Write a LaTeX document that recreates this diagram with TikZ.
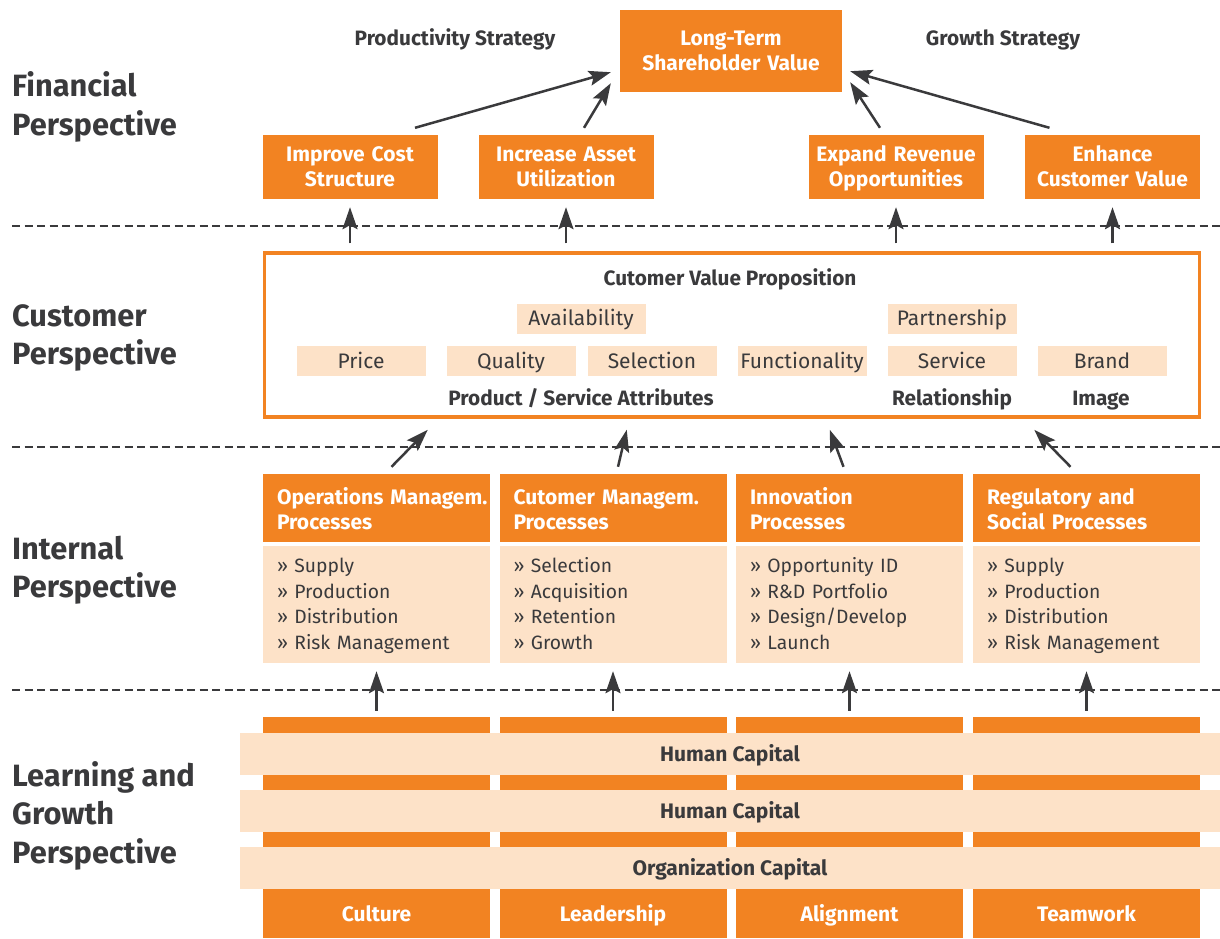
\documentclass[tikz,border=0pt]{standalone}
\usepackage{fontspec}
\setmainfont{Fira Sans}
\usetikzlibrary{arrows.meta}
\definecolor{bscorange}{HTML}{F28322}
\definecolor{bscpeach}{HTML}{FDE2C8}
\definecolor{bscdark}{HTML}{3A3A3C}
\newcommand{\histrut}{\rule[-7.5pt]{0pt}{33pt}}
\newcommand{\lostrut}{\rule[-7.5pt]{0pt}{29pt}}
\newcommand{\deepstrut}{\rule[-7.5pt]{0pt}{7.5pt}}
\tikzset{
	orangebase/.style={fill=bscorange, text=white, inner sep=0pt, align=center, font=\bfseries\fontsize{21}{25}\selectfont},
	peachbase/.style={fill=bscpeach, text=bscdark, inner sep=0pt, align=center, font=\fontsize{21}{25}\selectfont},
	cellbox/.style={orangebase, execute at begin node=\histrut, execute at end node=\histrut},
	finbox/.style={orangebase, text width=175pt, minimum width=175pt, minimum height=64pt, execute at begin node=\rule{0pt}{22pt}, execute at end node=\deepstrut},
	ltbox/.style={orangebase, text width=222pt, minimum width=222pt, minimum height=82pt, execute at begin node=\rule{0pt}{22pt}, execute at end node=\deepstrut},
	headbox/.style={orangebase, align=left, inner xsep=14pt, text width=199pt, minimum width=227pt, minimum height=68pt, execute at begin node=\rule{0pt}{25pt}, execute at end node=\deepstrut},
	listbox/.style={peachbase, align=left, inner xsep=14pt, text width=199pt, minimum width=227pt, minimum height=117pt, font=\fontsize{19.3}{25.5}\selectfont, execute at begin node=\rule{0pt}{20pt}, execute at end node=\deepstrut},
	attrbox/.style={peachbase, minimum width=129pt, minimum height=30pt, execute at begin node=\lostrut, execute at end node=\lostrut},
	capband/.style={peachbase, minimum width=980pt, minimum height=42pt, font=\bfseries\fontsize{21}{25}\selectfont, execute at begin node=\lostrut, execute at end node=\lostrut},
	colstripe/.style={fill=bscorange, minimum width=227pt, minimum height=221pt, inner sep=0pt},
	persp/.style={anchor=west, align=left, inner sep=0pt, text=bscdark, font=\bfseries\fontsize{30.8}{38.5}\selectfont},
	smalltitle/.style={inner sep=0pt, text=bscdark, font=\bfseries\fontsize{20.8}{24}\selectfont, execute at begin node=\strut},
	arr/.style={draw=bscdark, line width=2.5pt, -{Stealth[length=22pt,width=15pt,inset=4pt]}},
	sep/.style={draw=bscdark, line width=2.2pt, dash pattern=on 8pt off 4.5pt}
}

\begin{document}
\begin{tikzpicture}[x=1pt, y=-1pt]
		%%%%% START %%%%%
		\useasboundingbox (0,0) rectangle (1220,938);
		
		% perspectives
		\node[persp] (pfin) at (12,107) {Financial\\Perspective};
		\node[persp] (pcus) at (12,338) {Customer\\Perspective};
		\node[persp] (pint) at (12,570) {Internal\\Perspective};
		\node[persp] (plrn) at (12,815.5) {Learning and\\Growth\\Perspective};
		
		\draw[sep] (12,226) -- (1220,226);
		\draw[sep] (12,447) -- (1220,447);
		\draw[sep] (12,690) -- (1220,690);
		
		% financial
		\node[ltbox] (lt) at (731,51) {Long-Term\\Shareholder Value};
		\node[smalltitle] (prod) at (455,41) {Productivity Strategy};
		\node[smalltitle] (grow) at (1003,41) {Growth Strategy};
		
		\node[finbox] (imp) at (350,167) {Improve Cost\\Structure};
		\node[finbox] (inc) at (566,167) {Increase Asset\\Utilization};
		\node[finbox] (exp) at (896,167) {Expand Revenue\\Opportunities};
		\node[finbox] (enh) at (1112.5,167) {Enhance\\Customer Value};
		
		\draw[arr] ([xshift=65pt,yshift=7pt]imp.north) -- ([xshift=-9pt,yshift=20pt]lt.south west);
		\draw[arr] ([xshift=18pt,yshift=7pt]inc.north) -- ([xshift=-9pt,yshift=9pt]lt.south west);
		\draw[arr] ([xshift=-16pt,yshift=7pt]exp.north) -- ([xshift=8pt,yshift=10pt]lt.south east);
		\draw[arr] ([xshift=-63pt,yshift=7pt]enh.north) -- ([xshift=8pt,yshift=21pt]lt.south east);
		
		% customer
		\node[draw=bscorange, line width=3.5pt, minimum width=935pt, minimum height=164pt, inner sep=0pt] (cvp) at (732,335) {};
		\node[smalltitle] (cvptitle) at (730,281) {Cutomer Value Proposition};
		
		\node[attrbox] (avail) at (581,318.5) {Availability};
		\node[attrbox] (partner) at (952,318.5) {Partnership};
		\node[attrbox] (price) at (361,361) {Price};
		\node[attrbox] (quality) at (511,361) {Quality};
		\node[attrbox] (select) at (652,361) {Selection};
		\node[attrbox] (func) at (802,361) {Functionality};
		\node[attrbox] (service) at (952,361) {Service};
		\node[attrbox] (brand) at (1102,361) {Brand};
		
		\node[smalltitle] (psattr) at (581,401) {Product / Service Attributes};
		\node[smalltitle] (relat) at (952,401) {Relationship};
		\node[smalltitle] (image) at (1101,401) {Image};
		
		\draw[arr, shorten <=8pt, shorten >=8pt] (imp.south |- cvp.north) -- (imp.south);
		\draw[arr, shorten <=8pt, shorten >=8pt] (inc.south |- cvp.north) -- (inc.south);
		\draw[arr, shorten <=8pt, shorten >=8pt] (exp.south |- cvp.north) -- (exp.south);
		\draw[arr, shorten <=8pt, shorten >=8pt] (enh.south |- cvp.north) -- (enh.south);
		
		% internal
		\node[headbox] (ops) at (376.5,508) {\mbox{Operations Managem.}\\Processes};
		\node[headbox] (cmp) at (613,508) {\mbox{Cutomer Managem.}\\Processes};
		\node[headbox] (inn) at (849.5,508) {Innovation\\Processes};
		\node[headbox] (reg) at (1086.5,508) {Regulatory and\\Social Processes};
		
		\node[listbox] (opslist) at (376.5,604.5) {» Supply\\» Production\\» Distribution\\» Risk Management};
		\node[listbox] (cmplist) at (613,604.5) {» Selection\\» Acquisition\\» Retention\\» Growth};
		\node[listbox] (innlist) at (849.5,604.5) {» Opportunity ID\\» R\&D Portfolio\\» Design/Develop\\» Launch};
		\node[listbox] (reglist) at (1086.5,604.5) {» Supply\\» Production\\» Distribution\\» Risk Management};
		
		\draw[arr] ([xshift=15pt,yshift=7pt]ops.north) -- ([xshift=165pt,yshift=-11pt]cvp.south west);
		\draw[arr] ([xshift=5pt,yshift=7pt]cmp.north) -- ([xshift=364pt,yshift=-11pt]cvp.south west);
		\draw[arr] ([xshift=-6pt,yshift=7pt]inn.north) -- ([xshift=567pt,yshift=-11pt]cvp.south west);
		\draw[arr] ([xshift=-16pt,yshift=7pt]reg.north) -- ([xshift=-167pt,yshift=-11pt]cvp.south east);
		
		% learning and growth
		\node[colstripe] (lc1) at (376.5,827.5) {};
		\node[colstripe] (lc2) at (613,827.5) {};
		\node[colstripe] (lc3) at (849.5,827.5) {};
		\node[colstripe] (lc4) at (1086.5,827.5) {};
		
		\node[capband] (hc1) at (730,754) {Human Capital};
		\node[capband] (hc2) at (730,811) {Human Capital};
		\node[capband] (oc) at (730,868) {Organization Capital};
		
		\node[cellbox] (culture) at (376.5,912) {Culture};
		\node[cellbox] (leader) at (613,912) {Leadership};
		\node[cellbox] (align) at (849.5,912) {Alignment};
		\node[cellbox] (team) at (1086.5,912) {Teamwork};
		
		\draw[arr] ([yshift=6pt]lc1.north) -- ([yshift=-8pt]opslist.south);
		\draw[arr] ([yshift=6pt]lc2.north) -- ([yshift=-8pt]cmplist.south);
		\draw[arr] ([yshift=6pt]lc3.north) -- ([yshift=-8pt]innlist.south);
		\draw[arr] ([yshift=6pt]lc4.north) -- ([yshift=-8pt]reglist.south);
		
		%%%%% END %%%%%
	\end{tikzpicture}
\end{document}
